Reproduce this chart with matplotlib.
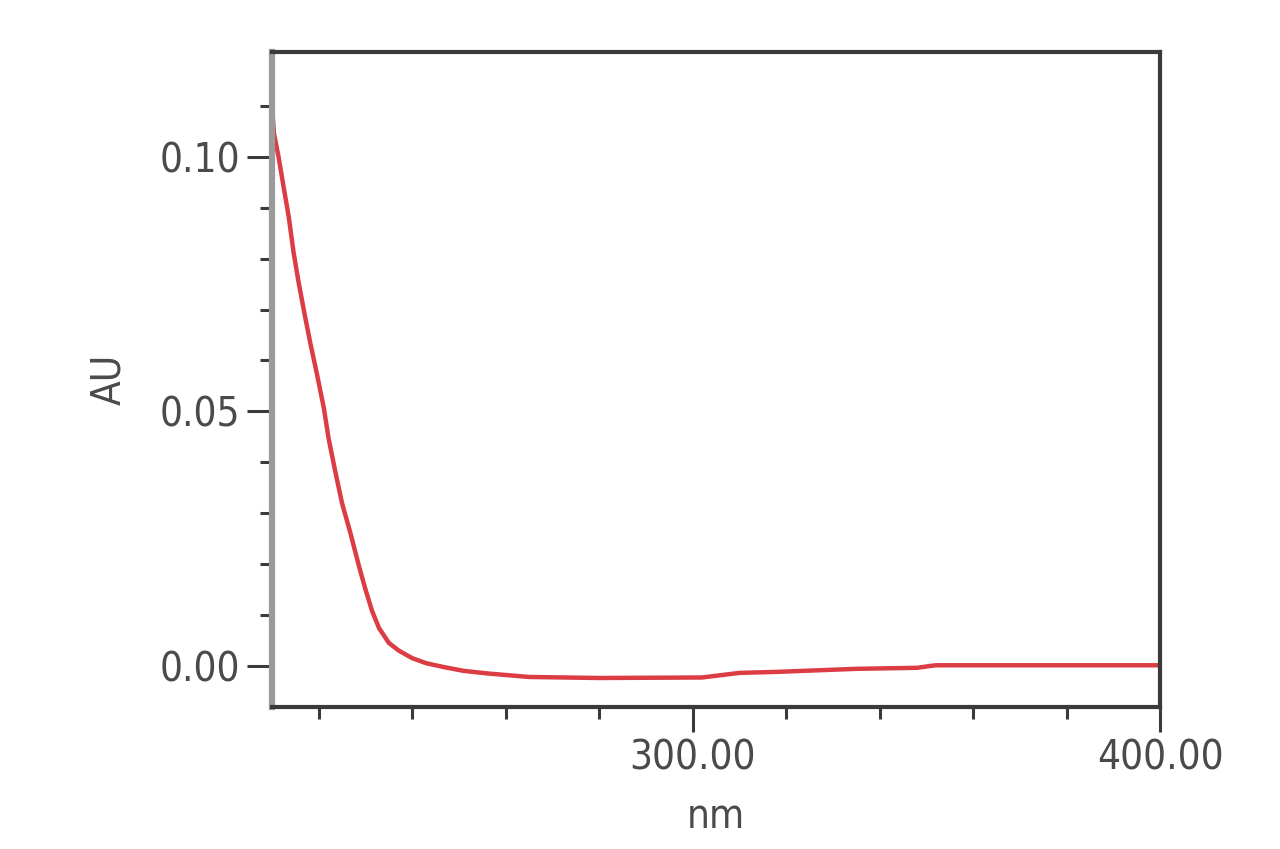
import matplotlib

matplotlib.use("Agg")
import matplotlib.pyplot as plt
from matplotlib import font_manager
from matplotlib.ticker import FixedLocator, FormatStrFormatter

# --- data --------------------------------------------------------------------
wavelength_nm = [
    210.0, 210.4, 211.4, 212.5, 213.6, 214.6, 215.7, 217.1, 218.2, 219.6,
    221.1, 222.1, 223.6, 225.0, 226.8, 228.6, 230.0, 231.4, 232.9, 235.0,
    237.1, 240.0, 243.0, 247.0, 251.0, 256.0, 265.0, 280.0, 302.0, 310.0,
    318.0, 335.0, 348.0, 352.0, 370.0, 400.0,
]
absorbance_au = [
    0.1102, 0.1047, 0.1000, 0.0940, 0.0881, 0.0813, 0.0753, 0.0685, 0.0634, 0.0574,
    0.0506, 0.0447, 0.0379, 0.0319, 0.0260, 0.0196, 0.0150, 0.0108, 0.0074, 0.0045,
    0.0030, 0.0015, 0.0005, -0.0003, -0.0010, -0.0015, -0.0022, -0.0024, -0.0023, -0.0014,
    -0.0012, -0.0006, -0.0004, 0.0001, 0.0001, 0.0001,
]
x_major = [300.0, 400.0]
x_minor = [220, 240, 260, 280, 320, 340, 360, 380]
y_major = [0.00, 0.05, 0.10]
y_minor = [0.01, 0.02, 0.03, 0.04, 0.06, 0.07, 0.08, 0.09, 0.11]

# --- style: the original uses a narrow sans face ------------------------------
fonts = font_manager.fontManager.ttflist
names = {f.name for f in fonts}
STRETCH = "normal"
if "Liberation Sans Narrow" in names:
    FONT, FS = "Liberation Sans Narrow", 33
elif any(f.name == "DejaVu Sans" and f.stretch == "condensed" for f in fonts):
    FONT, FS, STRETCH = "DejaVu Sans", 29, "condensed"
else:
    FONT, FS = "Liberation Sans", 28
plt.rcParams["font.family"] = [FONT, "DejaVu Sans"]
plt.rcParams["font.stretch"] = STRETCH
TEXT = "#4a4a4a"
DARK = "#3a3a3a"

fig = plt.figure(figsize=(12.8, 8.49), dpi=100)
ax = fig.add_axes([272 / 1280, 1 - 707 / 849, (1160 - 272) / 1280, (707 - 52) / 849])

ax.plot(wavelength_nm, absorbance_au, color="#dc3c44", lw=3.2, solid_joinstyle="round")

ax.set_xlim(210, 400)
ax.set_ylim(-0.0081, 0.1206)

ax.xaxis.set_major_locator(FixedLocator(x_major))
ax.xaxis.set_minor_locator(FixedLocator(x_minor))
ax.xaxis.set_major_formatter(FormatStrFormatter("%.2f"))
ax.yaxis.set_major_locator(FixedLocator(y_major))
ax.yaxis.set_minor_locator(FixedLocator(y_minor))
ax.yaxis.set_major_formatter(FormatStrFormatter("%.2f"))

ax.tick_params(which="major", length=18, width=2.2, color=DARK,
               labelsize=FS, labelcolor=TEXT)
ax.tick_params(which="minor", length=8.5, width=2.2, color=DARK)
ax.tick_params(axis="y", which="major", pad=5)
ax.tick_params(axis="x", which="major", pad=5)

for side in ("top", "bottom", "right"):
    ax.spines[side].set_color(DARK)
    ax.spines[side].set_linewidth(3.0)
ax.spines["left"].set_color("#9a9a9a")
ax.spines["left"].set_linewidth(4.5)

ax.set_xlabel("nm", fontsize=FS, color=TEXT, va="center")
ax.xaxis.set_label_coords(0.5, -0.168)
ax.set_ylabel("AU", fontsize=FS, color=TEXT, va="center")
ax.yaxis.set_label_coords(-0.183, 0.5)

fig.savefig("out.png", dpi=100)
